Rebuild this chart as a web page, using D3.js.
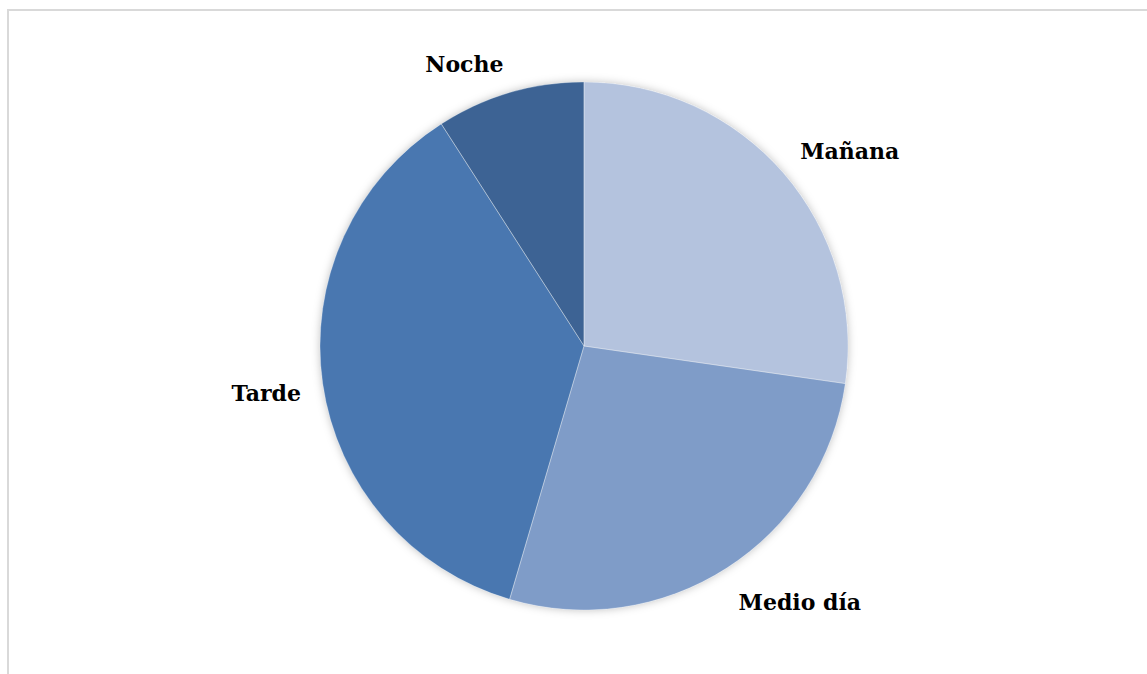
<!DOCTYPE html>
<html>
<head>
<meta charset="utf-8">
<script src="https://cdn.jsdelivr.net/npm/d3@7"></script>
<style>
  html, body { margin: 0; padding: 0; background: #fff; }
  svg { display: block; }
</style>
</head>
<body>
<svg id="chart" width="1147" height="674"></svg>
<script>
// values (shares 27.3 / 27.3 / 36.4 / 9.1 %)
const categories = ["Mañana", "Medio día", "Tarde", "Noche"];
const values = [30, 30, 40, 10];
const colors = ["#b4c3de", "#7f9cc8", "#4877b0", "#3c6494"];

const width = 1147, height = 674;
const cx = 584, cy = 346, radius = 264;

const svg = d3.select("#chart");

// chart frame (only top/left visible in the shot)
svg.append("rect")
  .attr("x", 8).attr("y", 10)
  .attr("width", width + 20).attr("height", height + 20)
  .attr("fill", "none")
  .attr("stroke", "#d9d9d9")
  .attr("stroke-width", 2);

const defs = svg.append("defs");
const f = defs.append("filter").attr("id", "shadow")
  .attr("x", "-10%").attr("y", "-10%").attr("width", "120%").attr("height", "120%");
f.append("feDropShadow")
  .attr("dx", 0).attr("dy", 0)
  .attr("stdDeviation", 4)
  .attr("flood-color", "#000")
  .attr("flood-opacity", 0.25);

const data = categories.map((c, i) => ({ name: c, value: values[i], color: colors[i] }));

const pie = d3.pie().sort(null).value(d => d.value);
const arc = d3.arc().innerRadius(0).outerRadius(radius);
const arcs = pie(data);

const g = svg.append("g").attr("transform", `translate(${cx},${cy})`);

g.append("g").attr("filter", "url(#shadow)")
  .selectAll("path")
  .data(arcs)
  .enter().append("path")
    .attr("d", arc)
    .attr("fill", d => d.data.color);

// thin light separators between slices
g.selectAll(".sep")
  .data(arcs)
  .enter().append("path")
    .attr("class", "sep")
    .attr("d", arc)
    .attr("fill", "none")
    .attr("stroke", "#ffffff")
    .attr("stroke-opacity", 0.35)
    .attr("stroke-width", 0.8);

// outside-end labels
const clamp = v => Math.max(-1, Math.min(1, v));
const labels = g.selectAll(".lbl")
  .data(arcs)
  .enter().append("text")
    .attr("class", "lbl")
    .attr("font-family", "'DejaVu Serif', 'Liberation Serif', serif")
    .attr("font-weight", "bold")
    .attr("font-size", 22)
    .attr("fill", "#000")
    .attr("text-anchor", "middle")
    .attr("dominant-baseline", "central")
    .text(d => d.data.name);

labels.each(function(d) {
  const el = d3.select(this);
  const bb = this.getBBox();
  const a = (d.startAngle + d.endAngle) / 2;
  const s = Math.sin(a), c = Math.cos(a);
  const r = radius + 22;
  const kx = clamp(4 * s), ky = clamp(3 * c);
  const x = r * s + bb.width / 2 * kx;
  const y = -r * c - bb.height / 2 * ky * 0.9 + 4 * Math.abs(ky);
  el.attr("x", x).attr("y", y);
});
</script>
</body>
</html>
